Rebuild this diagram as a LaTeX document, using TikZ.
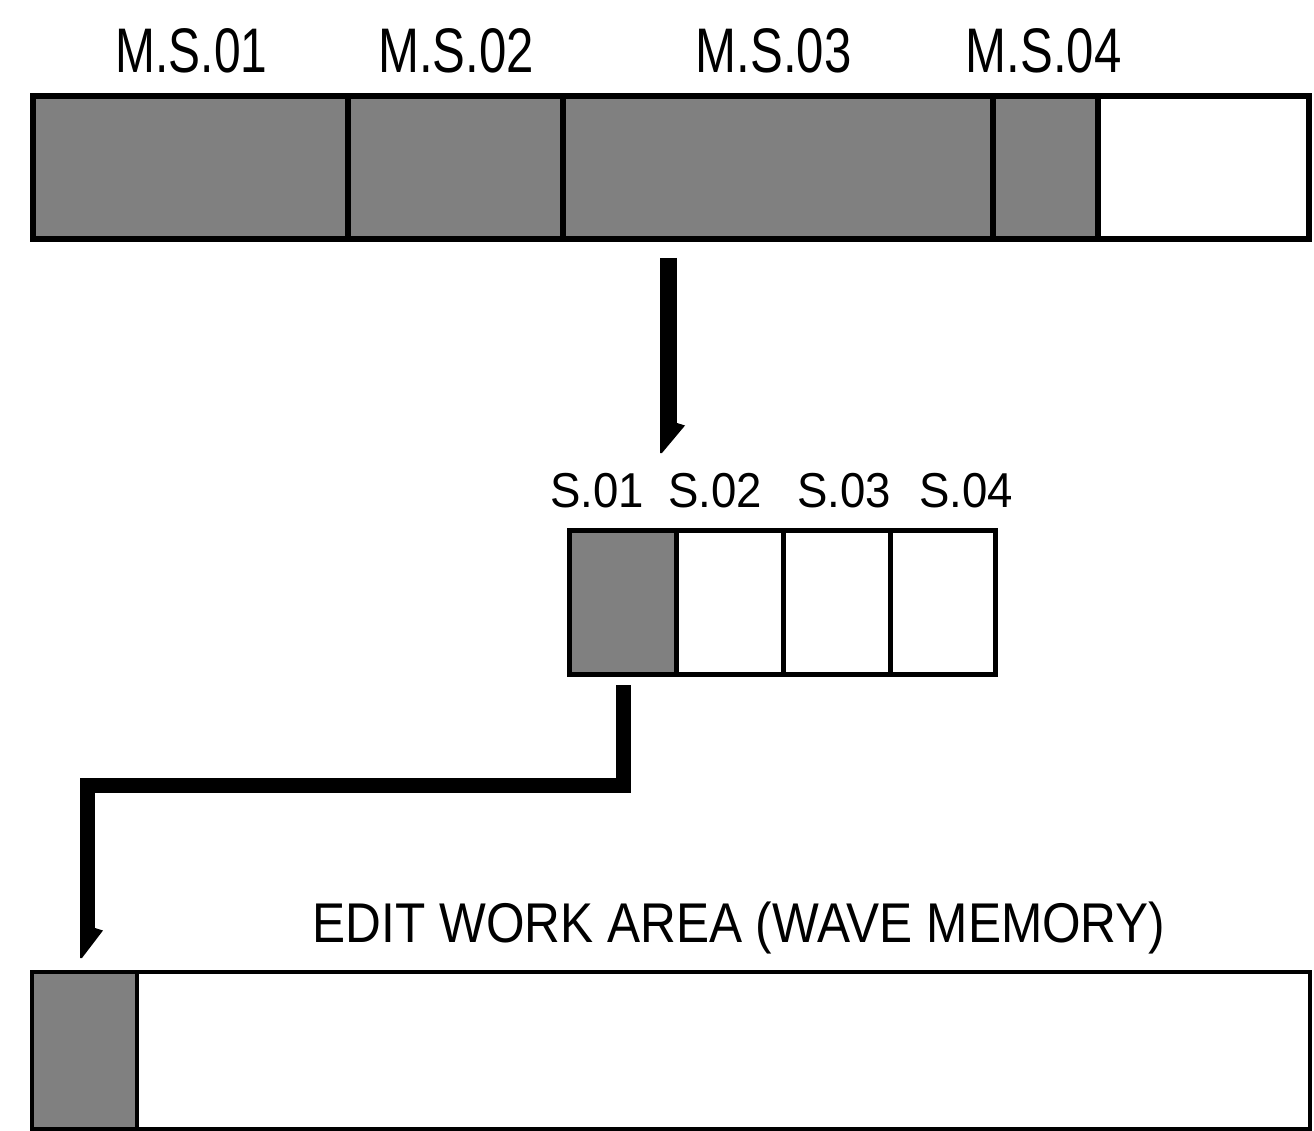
\documentclass[tikz,border=0pt]{standalone}
\usepackage{fontspec}
\usepackage{graphicx}
\setmainfont{Liberation Sans}
\usetikzlibrary{calc}
\newcommand\harptip[2]{\fill (#1) ++({-#2/2},0) -- ++(#2,0) -- ++(8,2.5) -- ++({-#2-6},27.5) -- ++(-2,0) -- cycle;}
\tikzset{
  topcell/.style={draw=black, rectangle, inner sep=0pt, outer sep=0pt, line width=6pt, minimum height=143pt},
  midcell/.style={draw=black, rectangle, inner sep=0pt, outer sep=0pt, line width=5pt, minimum height=144pt},
  botcell/.style={draw=black, rectangle, inner sep=0pt, outer sep=0pt, line width=4pt, minimum height=157pt},
  shaded/.style={fill=black!50},
  biglabel/.style={anchor=base, inner sep=0pt, font=\fontsize{63}{70}\selectfont},
  smlabel/.style={anchor=base, inner sep=0pt, font=\fontsize{49}{56}\selectfont},
  edlabel/.style={anchor=base, inner sep=0pt, font=\fontsize{56}{62}\selectfont},
  conn/.style={draw=black, line join=miter, line cap=butt}
}
\begin{document}
\begin{tikzpicture}[x=1pt, y=-1pt]
\useasboundingbox (0,0) rectangle (1314,1131);
% top bar
\node[topcell, shaded, minimum width=315pt] (ms1) at (190.5,167.5) {};
\node[topcell, shaded, minimum width=215pt] (ms2) at (455.5,167.5) {};
\node[topcell, shaded, minimum width=430pt] (ms3) at (778,167.5) {};
\node[topcell, shaded, minimum width=105pt] (ms4) at (1045.5,167.5) {};
\node[topcell, fill=white, minimum width=211pt] (ms5) at (1203.5,167.5) {};
\node[biglabel] (lms1) at (191.5,73) {\scalebox{0.76}[1]{M.S.01}};
\node[biglabel] (lms2) at (456,73) {\scalebox{0.78}[1]{M.S.02}};
\node[biglabel] (lms3) at (773.5,73) {\scalebox{0.78}[1]{M.S.03}};
\node[biglabel] (lms4) at (1043.5,73) {\scalebox{0.78}[1]{M.S.04}};
% middle
\node[midcell, shaded, minimum width=106.5pt] (s1) at (622.75,602.5) {};
\node[midcell, fill=white, minimum width=107pt] (s2) at (729.5,602.5) {};
\node[midcell, fill=white, minimum width=107pt] (s3) at (836.5,602.5) {};
\node[midcell, fill=white, minimum width=105.5pt] (s4) at (942.75,602.5) {};
\node[smlabel] (ls1) at (597,507) {\scalebox{0.93}[1]{S.01}};
\node[smlabel] (ls2) at (715,507) {\scalebox{0.93}[1]{S.02}};
\node[smlabel] (ls3) at (844,507) {\scalebox{0.93}[1]{S.03}};
\node[smlabel] (ls4) at (966,507) {\scalebox{0.93}[1]{S.04}};
% bottom
\node[botcell, shaded, minimum width=105pt] (e1) at (84.5,1050.5) {};
\node[botcell, fill=white, minimum width=1173pt] (e2) at (723.5,1050.5) {};
\node[edlabel] (le) at (739,942) {\scalebox{0.885}[1]{EDIT WORK AREA (WAVE MEMORY)}};
% arrow 1
\coordinate (a1s) at ($(ms3.south)+(-109.5,19)$);
\coordinate (a1t) at ($(s2.north)+(-61,-107.5)$);
\draw[conn, line width=17pt] (a1s) -- (a1t);
\harptip{a1t}{17}
% arrow 2
\coordinate (a2s) at ($(s1.south)+(0.25,10.5)$);
\coordinate (k2) at (87.5,785);
\coordinate (a2t) at ($(e1.north)+(3,-44)$);
\draw[conn, line width=15pt] (a2s) |- (k2) -- (a2t);
\harptip{a2t}{15}
\end{tikzpicture}
\end{document}
